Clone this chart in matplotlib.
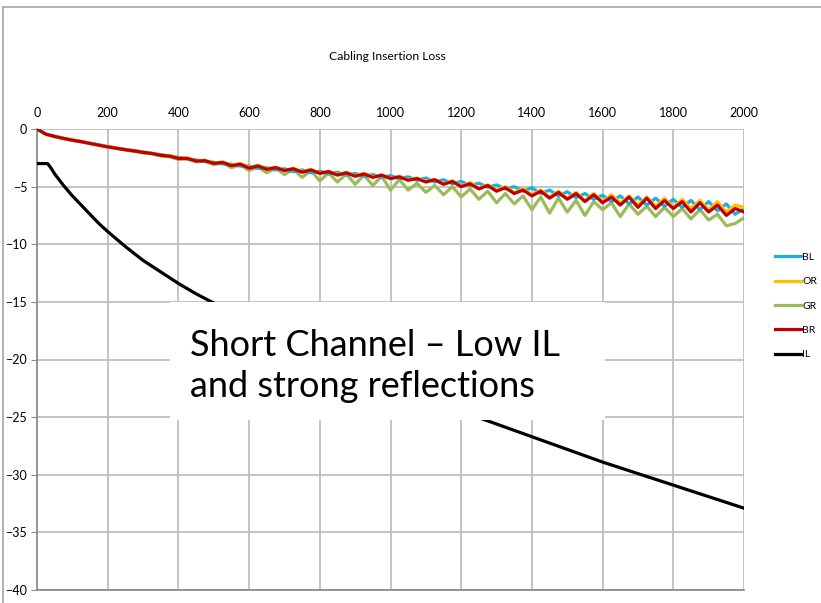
import numpy as np
import matplotlib
matplotlib.use("Agg")
import matplotlib.pyplot as plt
from matplotlib.patches import Rectangle
from matplotlib.lines import Line2D

plt.rcParams["font.family"] = ["Lato", "DejaVu Sans"]

# pair data sampled every 25 MHz, 0..2000
freq = np.arange(0, 2001, 25)

bl = [0.0, -0.43, -0.63, -0.8, -0.95, -1.08, -1.23, -1.38, -1.52, -1.65, -1.77, -1.88,
      -2.0, -2.12, -2.22, -2.36, -2.45, -2.6, -2.68, -2.83, -2.88, -3.03, -3.05, -3.22,
      -3.2, -3.42, -3.35, -3.55, -3.45, -3.7, -3.55, -3.8, -3.65, -3.9, -3.75, -4.0,
      -3.85, -4.1, -3.95, -4.2, -4.05, -4.3, -4.15, -4.45, -4.25, -4.6, -4.4, -4.75,
      -4.55, -4.9, -4.7, -5.05, -4.85, -5.2, -5.0, -5.4, -5.1, -5.6, -5.3, -5.8,
      -5.45, -5.95, -5.6, -6.1, -5.75, -6.3, -5.8, -6.5, -5.9, -6.6, -6.0, -6.7,
      -6.1, -6.8, -6.2, -7.0, -6.3, -7.1, -6.5, -7.4, -6.9]
orr = [0.0, -0.44, -0.64, -0.81, -0.96, -1.09, -1.24, -1.38, -1.53, -1.66, -1.78, -1.9,
       -2.02, -2.1, -2.28, -2.3, -2.52, -2.5, -2.76, -2.7, -2.96, -2.85, -3.13, -3.0,
       -3.33, -3.15, -3.45, -3.3, -3.6, -3.4, -3.7, -3.5, -3.85, -3.65, -3.95, -3.75,
       -4.05, -3.85, -4.15, -4.0, -4.3, -4.1, -4.4, -4.25, -4.55, -4.4, -4.75, -4.5,
       -4.95, -4.65, -5.1, -4.85, -5.3, -5.0, -5.5, -5.2, -5.7, -5.3, -5.9, -5.4,
       -6.0, -5.5, -6.2, -5.6, -6.3, -5.7, -6.4, -5.8, -6.6, -5.9, -6.7, -6.0,
       -6.8, -6.1, -6.9, -6.2, -7.0, -6.3, -7.2, -6.6, -6.8]
gr = [0.0, -0.45, -0.66, -0.83, -0.98, -1.12, -1.27, -1.42, -1.57, -1.7, -1.82, -1.95,
      -2.08, -2.15, -2.35, -2.4, -2.65, -2.6, -2.85, -2.8, -3.1, -2.95, -3.35, -3.1,
      -3.6, -3.3, -3.8, -3.4, -3.95, -3.5, -4.2, -3.6, -4.5, -3.8, -4.6, -3.9,
      -4.8, -4.0, -4.9, -4.1, -5.3, -4.4, -5.3, -4.7, -5.5, -4.9, -5.7, -5.0,
      -5.9, -5.2, -6.1, -5.4, -6.4, -5.6, -6.5, -5.8, -7.0, -5.9, -7.3, -6.0,
      -7.2, -6.2, -7.5, -6.3, -7.0, -6.4, -7.6, -6.5, -7.4, -6.7, -7.6, -6.8,
      -7.6, -6.9, -7.8, -7.0, -7.9, -7.4, -8.4, -8.2, -7.7]
br = [0.0, -0.45, -0.65, -0.82, -0.97, -1.1, -1.25, -1.4, -1.55, -1.67, -1.8, -1.9,
      -2.03, -2.12, -2.28, -2.35, -2.55, -2.55, -2.78, -2.75, -2.98, -2.9, -3.18, -3.05,
      -3.4, -3.2, -3.5, -3.35, -3.6, -3.45, -3.75, -3.55, -3.85, -3.7, -4.0, -3.8,
      -4.1, -3.9, -4.2, -4.0, -4.3, -4.15, -4.45, -4.3, -4.6, -4.4, -4.8, -4.55,
      -5.0, -4.75, -5.2, -4.9, -5.4, -5.1, -5.6, -5.3, -5.8, -5.4, -6.0, -5.5,
      -6.1, -5.6, -6.3, -5.7, -6.4, -5.9, -6.6, -5.9, -6.8, -6.0, -6.9, -6.2,
      -6.9, -6.3, -7.2, -6.4, -7.2, -6.6, -7.5, -6.9, -7.2]

# insertion loss limit
il_freq = [0, 30, 40, 50, 75, 100, 125, 150, 175, 200, 250, 300, 350, 400, 450, 500,
           600, 700, 800, 900, 1000, 1100, 1200, 1300, 1400, 1500, 1600, 1700, 1800,
           1900, 2000]
il = [-3.0, -3.0, -3.4, -3.9, -4.9, -5.8, -6.6, -7.4, -8.2, -8.9, -10.2, -11.4, -12.4,
      -13.4, -14.3, -15.1, -16.7, -18.1, -19.5, -20.8, -22.1, -23.3, -24.5, -25.6,
      -26.7, -27.8, -28.9, -29.9, -30.9, -31.9, -32.9]

series = [
    ("BL", bl, "#1CADE4", 3),
    ("OR", orr, "#FFC000", 4),
    ("GR", gr, "#9BBB59", 2),
    ("BR", br, "#C00000", 5),
]

fig = plt.figure(figsize=(8.21, 6.03), dpi=100)
ax = fig.add_axes([37 / 821, 1 - 590 / 603, (744 - 37) / 821, (590 - 129) / 603])

for name, vals, col, z in series:
    ax.plot(freq, vals, color=col, lw=2.3, zorder=z, solid_joinstyle="round")
ax.plot(il_freq, il, color="black", lw=2.3, zorder=6, solid_joinstyle="round")

ax.set_xlim(0, 2000)
ax.set_ylim(-40, 0)
ax.set_xticks(range(0, 2001, 200))
ax.set_yticks(range(-40, 1, 5))
ax.xaxis.tick_top()
ax.tick_params(axis="x", length=0, pad=7, labelsize=9)
ax.tick_params(axis="y", length=4, color="#888888", pad=3, labelsize=9)
ax.grid(True, color="#BFBFBF", lw=1.3)
ax.set_axisbelow(True)
for s in ("top", "right"):
    ax.spines[s].set_visible(False)
for s in ("left", "bottom"):
    ax.spines[s].set_color("#888888")
    ax.spines[s].set_linewidth(1.2)

fig.text(387 / 821, 1 - 57 / 603, "Cabling Insertion Loss", ha="center", va="center", fontsize=8.7)

# legend on the right
handles = [Line2D([], [], color=c, lw=2.3) for _, _, c, _ in series]
handles.append(Line2D([], [], color="black", lw=2.3))
labels = [n for n, _, _, _ in series] + ["IL"]
fig.legend(handles, labels, loc="center left", bbox_to_anchor=(766 / 821, 1 - 306 / 603),
           frameon=False, fontsize=7.5, handlelength=2.5, handletextpad=0.1, labelspacing=1.45)

# annotation box
fig.patches.append(Rectangle((170 / 821, 1 - 420 / 603), 435 / 821, 118 / 603,
                             transform=fig.transFigure, facecolor="white",
                             edgecolor="none", zorder=10))
fig.text(190 / 821, 1 - 366 / 603, "Short Channel \u2013 Low IL\nand strong reflections",
         ha="left", va="center", fontsize=26, linespacing=1.28, zorder=11)

# chart outer border
fig.add_artist(Line2D([3 / 821, 3 / 821], [0, 1 - 7 / 603], color="#A6A6A6", lw=1.2,
                      transform=fig.transFigure))
fig.add_artist(Line2D([3 / 821, 1], [1 - 7 / 603, 1 - 7 / 603], color="#A6A6A6", lw=1.2,
                      transform=fig.transFigure))

fig.savefig("out.png", dpi=100)
